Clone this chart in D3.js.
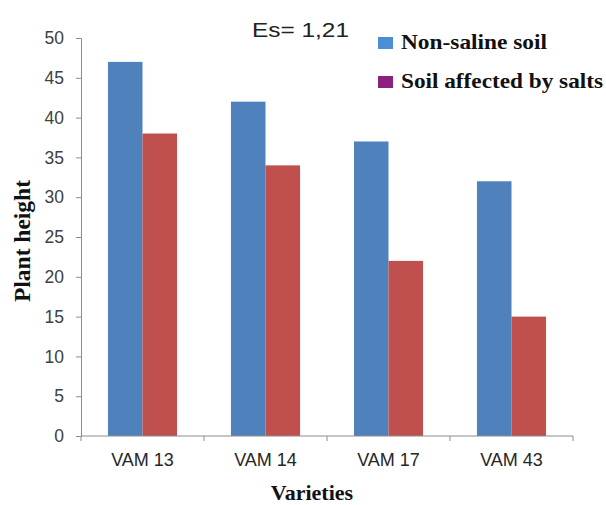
<!DOCTYPE html>
<html><head><meta charset="utf-8">
<script src="https://cdn.jsdelivr.net/npm/d3@7"></script>
<style>body{margin:0;background:#fff}</style>
</head><body>
<svg id="c" width="606" height="505"></svg>
<script>
const categories = ["VAM 13", "VAM 14", "VAM 17", "VAM 43"];
const seriesNames = ["Non-saline soil", "Soil affected by salts"];
const nonSaline = [47, 42, 37, 32];
const salty = [38, 34, 22, 15];
const yTicks = [0, 5, 10, 15, 20, 25, 30, 35, 40, 45, 50];

const svg = d3.select("#c");
const mLeft = 81, mRight = 573, mTop = 38, mBottom = 436;
const barColors = ["#4F81BD", "#C0504D"];
const legendColors = ["#4A8FD6", "#8E1F7E"];

const y = d3.scaleLinear().domain([0, 50]).range([mBottom, mTop]);
const x0 = d3.scaleBand().domain(categories).range([mLeft, mRight]).padding(0);
const x1 = d3.scaleBand().domain(seriesNames).range([0, x0.bandwidth()]).paddingInner(0).paddingOuter(0.78);

const data = categories.map((c, i) => ({cat: c, vals: [nonSaline[i], salty[i]]}));

const g = svg.append("g");
g.selectAll("g.grp").data(data).enter().append("g")
  .attr("transform", d => `translate(${x0(d.cat)},0)`)
  .selectAll("rect").data(d => d.vals.map((v, j) => ({v, s: seriesNames[j], j})))
  .enter().append("rect")
  .attr("x", d => x1(d.s))
  .attr("width", x1.bandwidth())
  .attr("y", d => y(d.v))
  .attr("height", d => y(0) - y(d.v))
  .attr("fill", d => barColors[d.j]);

// Y axis
const yAxis = d3.axisLeft(y).tickValues(yTicks).tickSize(5).tickPadding(12);
const ya = svg.append("g").attr("transform", `translate(${mLeft},0)`).call(yAxis);
ya.select(".domain").attr("stroke", "#8c8c8c");
ya.selectAll(".tick line").attr("stroke", "#8c8c8c");
ya.selectAll(".tick text").attr("font-family", "Liberation Sans, Arial, sans-serif")
  .attr("font-size", 17.5).attr("fill", "#404040");

// X axis
const xAxis = d3.axisBottom(x0).tickSize(0).tickPadding(17);
const xa = svg.append("g").attr("transform", `translate(0,${mBottom})`).call(xAxis);
xa.select(".domain").attr("stroke", "#8c8c8c").attr("d", `M${mLeft},0H${mRight}`);
xa.selectAll(".tick text").attr("font-family", "Liberation Sans, Arial, sans-serif")
  .attr("font-size", 18).attr("fill", "#262626");
const bounds = categories.map(c => x0(c)).concat([x0(categories[categories.length-1]) + x0.bandwidth()]);
xa.selectAll("line.bt").data(bounds).enter().append("line").attr("class", "bt")
  .attr("x1", d => d).attr("x2", d => d).attr("y1", 0).attr("y2", 5).attr("stroke", "#8c8c8c");

// Axis titles
svg.append("text").attr("x", 312).attr("y", 500).attr("text-anchor", "middle")
  .attr("font-family", "Liberation Serif, Times New Roman, serif").attr("font-weight", "bold")
  .attr("font-size", 22).attr("fill", "#111").text("Varieties");
svg.append("text").attr("transform", "translate(30,241) rotate(-90)").attr("text-anchor", "middle")
  .attr("font-family", "Liberation Serif, Times New Roman, serif").attr("font-weight", "bold")
  .attr("font-size", 23).attr("fill", "#111")
  .attr("textLength", 122).attr("lengthAdjust", "spacingAndGlyphs").text("Plant height");

// Es label
svg.append("text").attr("x", 252).attr("y", 37)
  .attr("font-family", "Liberation Sans, Arial, sans-serif").attr("font-size", 20).attr("fill", "#222")
  .attr("textLength", 97).attr("lengthAdjust", "spacingAndGlyphs").text("Es= 1,21");

// Legend
const legY = [49, 88];
const legW = [146, 202];
const leg = svg.selectAll("g.leg").data(seriesNames).enter().append("g").attr("class", "leg");
leg.append("rect").attr("x", 378).attr("y", (d, i) => legY[i] - 12).attr("width", 15).attr("height", 12)
  .attr("fill", (d, i) => legendColors[i]);
leg.append("text").attr("x", 401).attr("y", (d, i) => legY[i])
  .attr("font-family", "Liberation Serif, Times New Roman, serif").attr("font-weight", "bold")
  .attr("font-size", 21).attr("fill", "#111")
  .attr("textLength", (d, i) => legW[i]).attr("lengthAdjust", "spacingAndGlyphs").text(d => d);
</script>
</body></html>
